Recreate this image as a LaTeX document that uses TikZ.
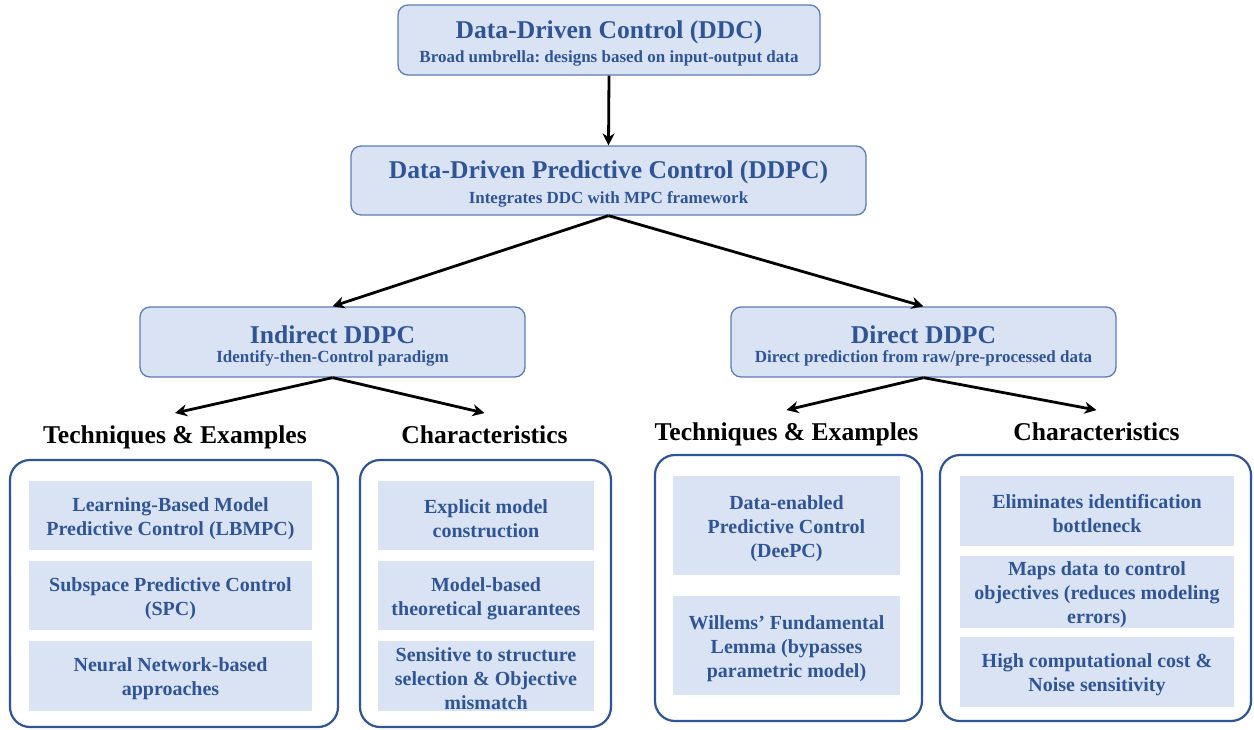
\documentclass[tikz,border=0pt]{standalone}
\usepackage{fontspec}
\setmainfont{Liberation Serif}
\usetikzlibrary{arrows.meta}
\definecolor{tb}{HTML}{2F5597}
\definecolor{fb}{HTML}{DAE3F3}
\definecolor{bb}{HTML}{5B7DB8}
\frenchspacing
\tikzset{
  mainbox/.style={draw=bb, line width=1.3pt, fill=fb, rounded corners=10pt, inner sep=0pt, align=center, text=tb, font=\bfseries},
  groupbox/.style={draw=tb, line width=2.2pt, fill=white, rounded corners=20pt, inner sep=0pt},
  itembox/.style={fill=fb, inner sep=0pt, align=center, text=tb, font=\bfseries\fontsize{20}{24}\selectfont},
  headtext/.style={font=\bfseries\fontsize{25.6}{30}\selectfont, inner xsep=0pt, inner ysep=12pt, anchor=base},
  arr/.style={line width=2.8pt, -{Stealth[length=12pt,width=12pt]}},
}
\newcommand{\ttl}[1]{{\fontsize{25.6}{30}\selectfont\rule{0pt}{25pt}#1}}
\newcommand{\sbt}[1]{{\fontsize{17}{20}\selectfont #1}}
\newcommand{\fs}{\rule{0pt}{20pt}}
\begin{document}
\begin{tikzpicture}[x=1pt,y=-1pt]
\useasboundingbox[fill=white] (0,0) rectangle (1254,729);

\node[mainbox, minimum width=422, minimum height=70] (ddc) at (609,40)
  {\ttl{Data-Driven Control (DDC)}\\[6pt]\sbt{Broad umbrella: designs based on input-output data}};
\node[mainbox, minimum width=515, minimum height=69] (ddpc) at (608.5,180.5)
  {\ttl{Data-Driven Predictive Control (DDPC)}\\[6pt]\sbt{Integrates DDC with MPC framework}};
\node[mainbox, minimum width=385, minimum height=70] (ind) at (332.5,342)
  {\ttl{Indirect DDPC}\\[6pt]\sbt{Identify-then-Control paradigm}};
\node[mainbox, minimum width=385, minimum height=70] (dir) at (923.5,342)
  {\ttl{Direct DDPC}\\[6pt]\sbt{Direct prediction from raw/pre-processed data}};

\node[headtext] (h1) at (175,443) {Techniques \& Examples};
\node[headtext] (h2) at (484.5,443) {Characteristics};
\node[headtext] (h3) at (786.5,440) {Techniques \& Examples};
\node[headtext] (h4) at (1096.5,440) {Characteristics};

\draw[arr] (ddc.south) -- (ddpc.north);
\draw[arr] (ddpc.south) -- (ind.north);
\draw[arr] (ddpc.south) -- (dir.north);
\draw[arr] (ind.south) -- (h1.north);
\draw[arr] (ind.south) -- (h2.north);
\draw[arr] (dir.south) -- (h3.north);
\draw[arr] (dir.south) -- (h4.north);

\node[groupbox, minimum width=328, minimum height=267] (g1) at (174,593.5) {};
\node[groupbox, minimum width=251, minimum height=267] (g2) at (485.5,593.5) {};
\node[groupbox, minimum width=267, minimum height=266] (g3) at (788.5,588) {};
\node[groupbox, minimum width=311, minimum height=266] (g4) at (1095.5,588) {};

\node[itembox, minimum width=283, minimum height=69] (a1) at (170.5,515.5) {\fs Learning-Based Model\\Predictive Control (LBMPC)};
\node[itembox, minimum width=283, minimum height=69] (a2) at (170.5,595.5) {\fs Subspace Predictive Control\\(SPC)};
\node[itembox, minimum width=283, minimum height=70] (a3) at (170.5,676) {\fs Neural Network-based\\approaches};

\node[itembox, minimum width=216, minimum height=69] (b1) at (486,515.5) {\fs Explicit model\\construction};
\node[itembox, minimum width=216, minimum height=69] (b2) at (486,595.5) {\fs Model-based\\theoretical guarantees};
\node[itembox, minimum width=216, minimum height=70] (b3) at (486,676) {\fs Sensitive to structure\\selection \& Objective\\mismatch};

\node[itembox, minimum width=227, minimum height=99] (c1) at (786.5,525.5) {\fs Data-enabled\\Predictive Control\\(DeePC)};
\node[itembox, minimum width=227, minimum height=99] (c2) at (786.5,645.5) {\fs Willems’ Fundamental\\Lemma (bypasses\\parametric model)};

\node[itembox, minimum width=274, minimum height=70] (d1) at (1097,511) {\fs Eliminates identification\\bottleneck};
\node[itembox, minimum width=274, minimum height=70] (d2) at (1097,592) {\fs Maps data to control\\objectives (reduces modeling\\errors)};
\node[itembox, minimum width=274, minimum height=70] (d3) at (1097,672) {\fs High computational cost \&\\Noise sensitivity};
\end{tikzpicture}
\end{document}
